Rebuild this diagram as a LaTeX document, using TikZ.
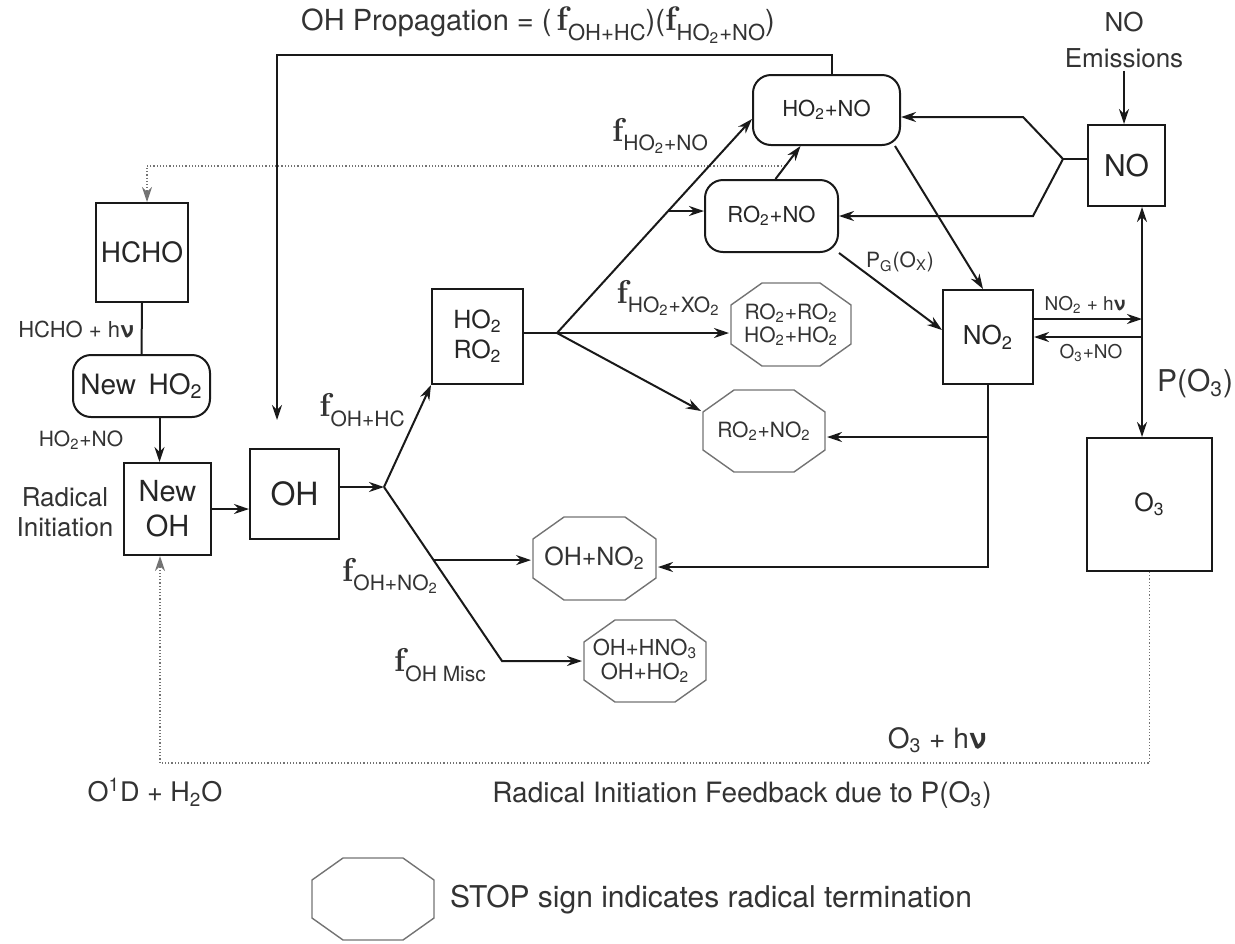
\documentclass[tikz,border=0pt]{standalone}
\usepackage{fontspec}
\setsansfont{TeX Gyre Heros}
\usepackage{tikz}
\usetikzlibrary{arrows.meta,calc,positioning}
\tikzstyle{box}=[draw,rectangle,inner sep=1pt,text=black!85,font=\sffamily]
\tikzstyle{roundbox}=[box,rounded corners=9pt]
\tikzstyle{stopsign}=[rectangle,inner sep=0pt,text=black!80,align=center,
  path picture={\draw[black!55,line width=0.7pt]
    ($(path picture bounding box.north west)+(16pt,-0.5pt)$) --
    ($(path picture bounding box.north east)+(-16pt,-0.5pt)$) --
    ($(path picture bounding box.north east)+(-0.5pt,-11.5pt)$) --
    ($(path picture bounding box.south east)+(-0.5pt,11.5pt)$) --
    ($(path picture bounding box.south east)+(-16pt,0.5pt)$) --
    ($(path picture bounding box.south west)+(16pt,0.5pt)$) --
    ($(path picture bounding box.south west)+(0.5pt,11.5pt)$) --
    ($(path picture bounding box.north west)+(0.5pt,-11.5pt)$) -- cycle;}]
\tikzstyle{lbl}=[inner sep=1pt,text=black!80,font=\sffamily]
\tikzstyle{feedback}=[black!55,line width=0.6pt,densely dotted]
\newcommand{\fs}[2]{\fontsize{#1}{#2}\selectfont}
\newcommand{\fsub}[3]{{\fs{#1}{#1}\rmfamily\bfseries f}{\fs{#2}{#2}\raisebox{-0.45em}{#3}}}

\begin{document}
\begin{tikzpicture}[x=0.5pt,y=-0.5pt,line width=1pt,draw=black!90,
  >={Stealth[length=7.5pt,width=5pt]}]
\useasboundingbox (0,0) rectangle (1235,943);
\node [box,minimum width=46pt,minimum height=49.5pt,font=\sffamily\fs{14}{16}] (hcho) at (142,252.5) {HCHO};
\node [roundbox,minimum width=68.5pt,minimum height=31pt,font=\sffamily\fs{14}{16}] (newho2) at (141.5,386) {New\hspace{0.45em}HO\textsubscript{2}};
\node [box,minimum width=43.5pt,minimum height=46pt,align=center,font=\sffamily\fs{14.5}{17.5}] (newoh) at (167.5,509) {New\\OH};
\node [box,minimum width=44.5pt,minimum height=45pt,font=\sffamily\fs{16}{18}] (oh) at (294.5,494) {OH};
\node [box,minimum width=45.5pt,minimum height=47.5pt,align=center,font=\sffamily\fs{12.5}{15}] (xo2) at (477.5,336.5) {HO\textsubscript{2}\\RO\textsubscript{2}};
\node [roundbox,minimum width=73.5pt,minimum height=35pt,font=\sffamily\fs{11}{12}] (ho2no) at (826.5,110) {HO\textsubscript{2}+NO};
\node [roundbox,minimum width=66.5pt,minimum height=36pt,font=\sffamily\fs{11}{12}] (ro2no) at (771.5,216) {RO\textsubscript{2}+NO};
\node [box,minimum width=38.5pt,minimum height=40.5pt,font=\sffamily\fs{15}{17}] (no) at (1126.5,165.5) {NO};
\node [box,minimum width=45pt,minimum height=47pt,font=\sffamily\fs{13}{15}] (no2) at (988,337) {NO\textsubscript{2}};
\node [box,minimum width=62.5pt,minimum height=66.5pt,font=\sffamily\fs{12.5}{14}] (o3) at (1149.5,504.5) {O\textsubscript{3}};

\node [stopsign,minimum width=61pt,minimum height=42.5pt,font=\sffamily\fs{10.5}{11.5}] (termxo2) at (791,324.5) {RO\textsubscript{2}+RO\textsubscript{2}\\HO\textsubscript{2}+HO\textsubscript{2}};
\node [stopsign,minimum width=62pt,minimum height=42pt,font=\sffamily\fs{10.5}{12}] (termrno2) at (764,431) {RO\textsubscript{2}+NO\textsubscript{2}};
\node [stopsign,minimum width=62.5pt,minimum height=42.5pt,font=\sffamily\fs{12.5}{14}] (termohno2) at (594.5,558.5) {OH+NO\textsubscript{2}};
\node [stopsign,minimum width=62pt,minimum height=42pt,font=\sffamily\fs{11}{12}] (termmisc) at (645,661) {OH+HNO\textsubscript{3}\\OH+HO\textsubscript{2}};
\node [stopsign,minimum width=62pt,minimum height=42pt] (legend) at (373,899) {};
\node [lbl,anchor=west,font=\sffamily\fs{15}{17}] (legendtxt) at (447,900) {STOP sign indicates radical termination};

\node [lbl,font=\sffamily\fs{14.5}{16}] (proplbl) at (538,25) {OH Propagation =~(\,\fsub{17}{11}{OH+HC})(\fsub{17}{11}{HO\textsubscript{2}+NO})};
\node [lbl,font=\sffamily\fs{11}{13}] (hchohv) at (76,330) {HCHO + h\textbf{ν}};
\node [lbl,font=\sffamily\fs{10.5}{12}] (ho2nolbl) at (81,440) {HO\textsubscript{2}+NO};
\node [lbl,align=center,font=\sffamily\fs{13}{15}] (radinit) at (65,512) {Radical\\Initiation};
\node [lbl,align=center,font=\sffamily\fs{13}{18}] (noemis) at (1124,40) {NO\\Emissions};
\node [lbl,font=\sffamily\fs{9.5}{11}] (no2hv) at (1085,305) {NO\textsubscript{2} + h\textbf{ν}};
\node [lbl,font=\sffamily\fs{9.5}{11}] (o3no) at (1091,353) {O\textsubscript{3}+NO};
\node [lbl,font=\sffamily\fs{15}{17}] (po3) at (1195,383) {P(O\textsubscript{3})};
\node [lbl,font=\sffamily\fs{10.5}{12}] (pgox) at (900,262) {P\textsubscript{G}(O\textsubscript{X})};
\node [lbl] (fho2no) at (660,136) {\fsub{16.5}{10.5}{HO\textsubscript{2}+NO}};
\node [lbl] (fxo2) at (668,298) {\fsub{16.5}{10.5}{HO\textsubscript{2}+XO\textsubscript{2}}};
\node [lbl] (fohhc) at (362,410) {\fsub{16.5}{10.5}{OH+HC}};
\node [lbl] (fohno2) at (390,576) {\fsub{16.5}{10.5}{OH+NO\textsubscript{2}}};
\node [lbl] (fmisc) at (440,665) {\fsub{16.5}{10.5}{OH Misc}};
\node [lbl,font=\sffamily\fs{14}{16}] (o3hv) at (937,740) {O\textsubscript{3} + h\textbf{ν}};
\node [lbl,font=\sffamily\fs{13.5}{16}] (o1d) at (155,792) {O\textsuperscript{1}D + H\textsubscript{2}O};
\node [lbl,font=\sffamily\fs{14}{16}] (feedlbl) at (742,795) {Radical Initiation Feedback due to P(O\textsubscript{3})};

\coordinate (j1) at (384,487);
\coordinate (jmisc) at (502,661);
\coordinate (jno2) at ($(j1)!0.42!(jmisc)$);
\coordinate (j2) at (557,333);
\coordinate (ho2noin) at ($(ho2no.west)+(0,9)$);
\coordinate (jr) at ($(j2)!0.57!(ho2noin)$);
\coordinate (rno2in) at ($(termrno2.north west)+(0,23)$);
\coordinate (jno) at (1063,159);
\coordinate (cup) at (1023,117);
\coordinate (clo) at (1033,216);
\coordinate (jv) at (1142,319);
\coordinate (jv2) at (1142,337);
\coordinate (jmid) at (988,437);
\coordinate (jbot) at (988,567);
\coordinate (proptop) at (277,55);
\coordinate (ohin) at (277,420);
\coordinate (hcfrom) at (785,166);
\coordinate (fb) at (160,763);

\draw [feedback,->] (hcfrom) -| ([xshift=2.5pt]hcho.north);
\draw [feedback,->] (o3.south) |- (fb) -- (fb |- newoh.south);

\draw (hcho.south) -- (newho2.north);
\draw [->] ([xshift=9pt]newho2.south) -- ([xshift=9pt]newho2.south |- newoh.north);
\draw [->] (newoh.east) -- (newoh.east -| oh.west);
\draw [->] (oh.east |- j1) -- (j1);
\draw [->] (j1) -- (xo2.south west);
\draw [->] (j1) -- (jmisc) -- (termmisc.west);
\draw [->] (jno2) -- (jno2 -| termohno2.west);
\draw (xo2.east |- j2) -- (j2);
\draw [->] (j2) -- (j2 -| termxo2.west);
\draw [->] (j2) -- (ho2noin);
\draw [->] (jr) -- (jr -| ro2no.west);
\draw [->] (j2) -- (rno2in);
\draw [->] ([xshift=2pt]ro2no.north) -- ([xshift=-13pt]ho2no.south);
\draw [->] ([xshift=-3pt]ho2no.south east) -- ([xshift=-2.5pt]no2.north);
\draw [->] (ro2no.south east) -- ([yshift=3.5pt]no2.west);
\draw [->] ([xshift=2.75pt]ho2no.north) |- (proptop) -- (ohin);
\draw (no.west |- jno) -- (jno);
\draw [->] (jno) -- (cup) -- (cup -| ho2no.east);
\draw [->] (jno) -- (clo) -- (clo -| ro2no.east);
\draw [->] (noemis.south) -- (noemis.south |- no.north);
\draw [<->] (no.south -| jv) -- (o3.north -| jv);
\draw [->] (no2.east |- jv) -- (jv);
\draw [->] (jv2) -- (no2.east |- jv2);
\draw [->] (no2.south) -- (jbot) -- (jbot -| termohno2.east);
\draw [->] (jmid) -- (jmid -| termrno2.east);
\end{tikzpicture}
\end{document}
